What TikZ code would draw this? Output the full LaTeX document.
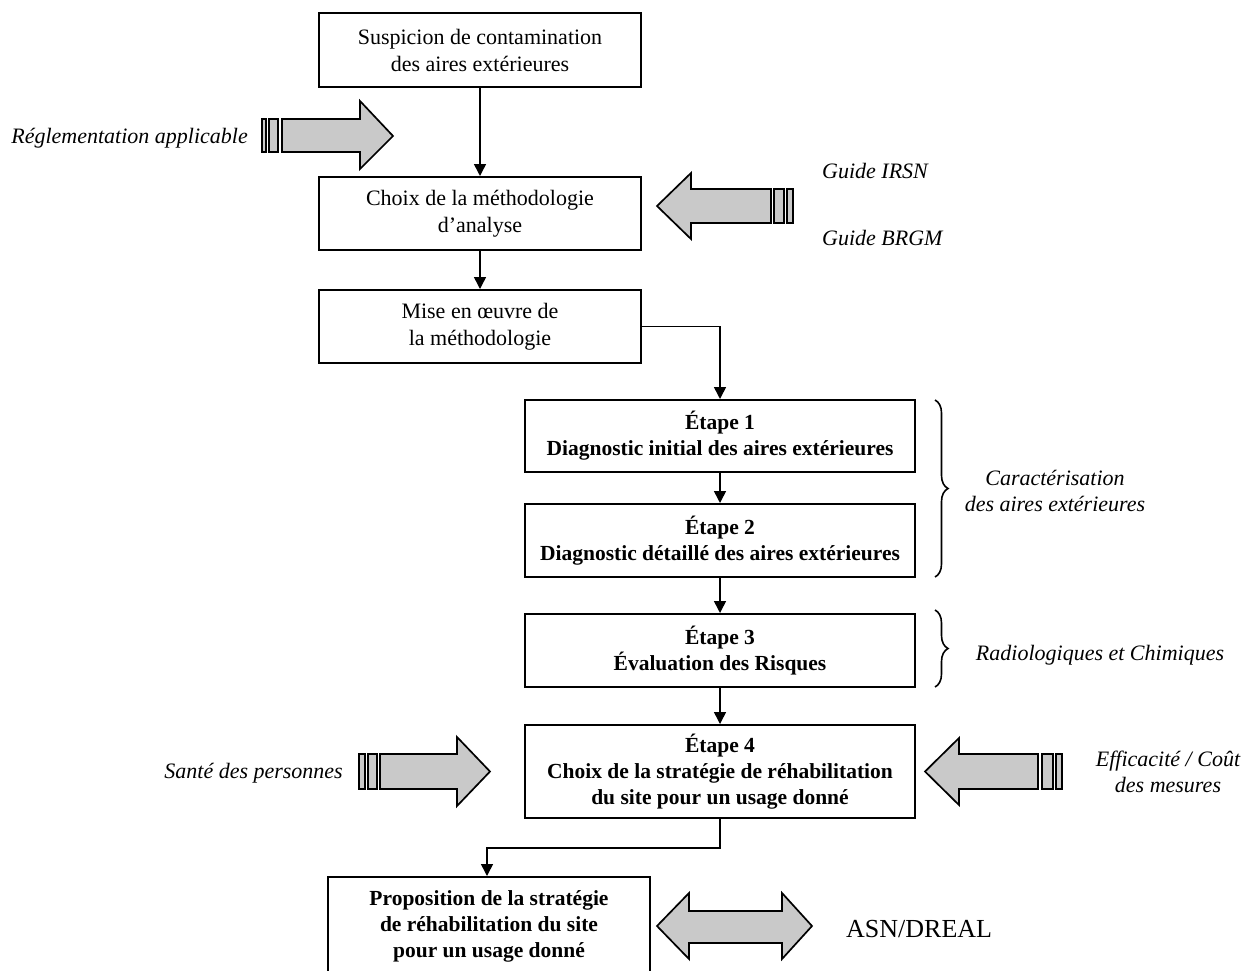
\documentclass[tikz,border=0pt]{standalone}
\usepackage{fontspec}
\setmainfont{Liberation Serif}
\usetikzlibrary{arrows.meta,decorations.pathreplacing}
\begin{document}
\begin{tikzpicture}[x=1pt,y=-1pt,
  box/.style={draw,line width=2pt,inner sep=0pt,align=center,
    font=\fontsize{22}{27}\selectfont},
  bbox/.style={box,font=\fontsize{21.5}{26}\selectfont\bfseries},
  arr/.style={line width=1.5pt,-{Triangle[width=12pt,length=12pt]}},
  blk/.style={draw,line width=1.7pt,fill=gray!42,line join=miter},
  lbl/.style={font=\fontsize{22}{26}\selectfont\itshape,inner sep=0pt,align=center},
  brc/.style={decorate,decoration={brace,amplitude=13pt},line width=1.6pt}]
\clip (0,0) rectangle (1247,970);

% main column of process boxes
\node[box,minimum width=322pt,minimum height=74pt] (b1) at (480,50)
  {Suspicion de contamination\\des aires extérieures};
\node[box,minimum width=322pt,minimum height=73pt] (b2) at (480,213.5)
  {Choix de la méthodologie\\d’analyse};
\node[box,minimum width=322pt,minimum height=73pt] (b3) at (480,326.5)
  {Mise en œuvre de\\la méthodologie};

\node[bbox,minimum width=390pt,minimum height=72pt] (e1) at (720,436)
  {Étape 1\\Diagnostic initial des aires extérieures};
\node[bbox,minimum width=390pt,minimum height=73pt] (e2) at (720,540.5)
  {Étape 2\\Diagnostic détaillé des aires extérieures};
\node[bbox,minimum width=390pt,minimum height=73pt] (e3) at (720,650.5)
  {Étape 3\\Évaluation des Risques};
\node[bbox,minimum width=390pt,minimum height=93pt] (e4) at (720,771.5)
  {Étape 4\\Choix de la stratégie de réhabilitation\\du site pour un usage donné};

\node[bbox,minimum width=322pt,minimum height=98pt] (prop) at (489,926)
  {Proposition de la stratégie\\de réhabilitation du site\\pour un usage donné};

% connectors
\draw[arr] (b1.south) -- (b2.north);
\draw[arr] (b2.south) -- (b3.north);
\draw[arr] (b3.east) -| (e1.north);
\draw[arr] (e1.south) -- (e2.north);
\draw[arr] (e2.south) -- (e3.north);
\draw[arr] (e3.south) -- (e4.north);
\coordinate (bend) at (720,848);
\draw[arr] (e4.south) -- (bend) -| ([xshift=-2pt]prop.north);

% striped block arrows
\draw[blk] (262,119) rectangle (266,152);
\draw[blk] (269,119) rectangle (278,152);
\draw[blk] (282,119) -- (360,119) -- (360,101) -- (393,136) -- (360,169)
  -- (360,152) -- (282,152) -- cycle;

\draw[blk] (793,189) rectangle (787,223);
\draw[blk] (784,189) rectangle (774,223);
\draw[blk] (771,189) -- (691,189) -- (691,173) -- (657,206) -- (691,239)
  -- (691,223) -- (771,223) -- cycle;

\draw[blk] (359,754) rectangle (365,789);
\draw[blk] (368,754) rectangle (377,789);
\draw[blk] (380,754) -- (457,754) -- (457,737) -- (490,771.5) -- (457,806)
  -- (457,789) -- (380,789) -- cycle;

\draw[blk] (1062,754) rectangle (1056,789);
\draw[blk] (1053,754) rectangle (1042,789);
\draw[blk] (1038,754) -- (959,754) -- (959,738) -- (925,771.5) -- (959,805)
  -- (959,789) -- (1038,789) -- cycle;

% double arrow towards the authorities
\draw[blk] (657,926) -- (689,893) -- (689,911) -- (782,911) -- (782,893)
  -- (812,926) -- (782,959) -- (782,943) -- (689,943) -- (689,959) -- cycle;

% braces
\draw[brc] (935,400) -- (935,577);
\draw[brc] (935,610) -- (935,687);

% labels
\node[lbl,anchor=base east] (reg) at (248,143) {Réglementation applicable};
\node[lbl,anchor=base west] (irsn) at (822,178) {Guide IRSN};
\node[lbl,anchor=base west] (brgm) at (822,245) {Guide BRGM};
\node[lbl] (carac) at (1055,491) {Caractérisation\\des aires extérieures};
\node[lbl,anchor=base] (radio) at (1100,660) {Radiologiques et Chimiques};
\node[lbl,anchor=base east] (sante) at (343,778) {Santé des personnes};
\node[lbl] (effi) at (1168,772) {Efficacité / Coût\\des mesures};
\node[inner sep=0pt,anchor=base west,font=\fontsize{26}{30}\selectfont] (asn)
  at (846,937) {ASN/DREAL};
\end{tikzpicture}
\end{document}
